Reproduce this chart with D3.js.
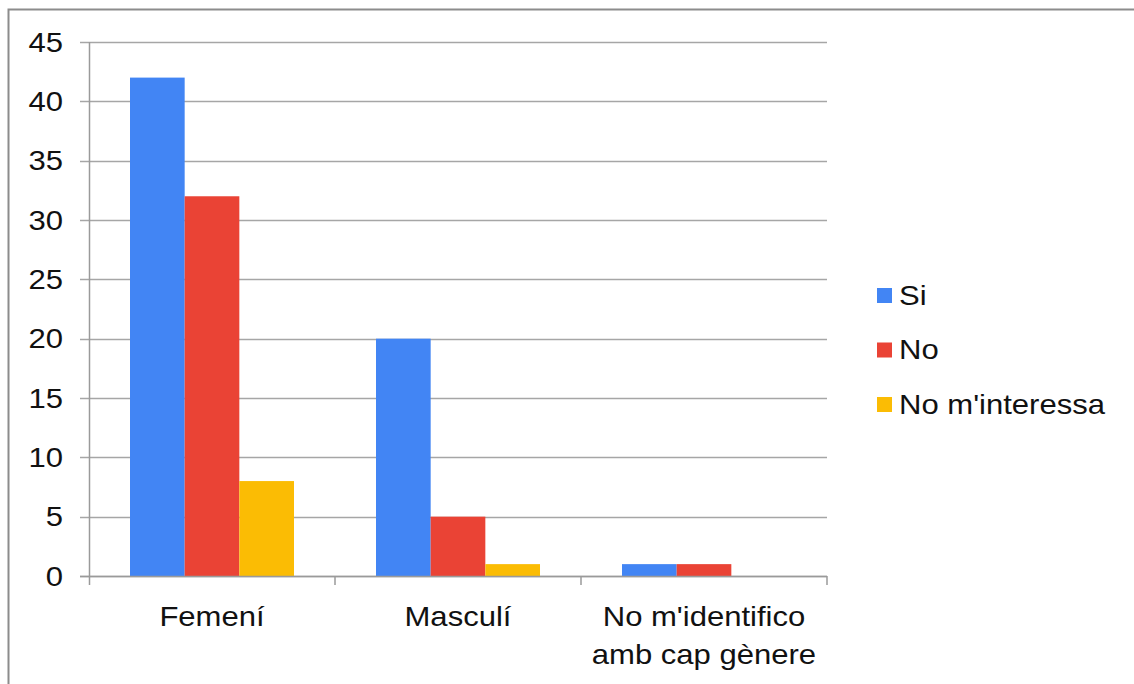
<!DOCTYPE html>
<html>
<head>
<meta charset="utf-8">
<script src="https://cdn.jsdelivr.net/npm/d3@7"></script>
<style>
  body { margin: 0; background: #fff; }
  text { font-family: "Liberation Sans", Arial, sans-serif; fill: #111; }
</style>
</head>
<body>
<div id="chart"></div>
<script>
const categories = ['Femení', 'Masculí', "No m'identifico\namb cap gènere"];
const seriesNames = ['Si', 'No', "No m'interessa"];
const si = [42, 20, 1];
const no = [32, 5, 1];
const noInteressa = [8, 1, 0];
const yTicks = [0, 5, 10, 15, 20, 25, 30, 35, 40, 45];
const colors = ['#4285f4', '#ea4335', '#fbbc04'];

const width = 1134, height = 684;
const margin = { left: 89, right: 307, top: 42, bottom: 108 };
const fontSize = 27;

const svg = d3.select('#chart').append('svg')
  .attr('width', width)
  .attr('height', height);

// outer frame (only left and top visible)
svg.append('path')
  .attr('d', 'M8.5,' + height + 'V9.5H' + width)
  .attr('fill', 'none')
  .attr('stroke', '#8c8c8c')
  .attr('stroke-width', 2);

const x0 = d3.scaleBand()
  .domain(categories)
  .range([margin.left, width - margin.right])
  .paddingInner(0)
  .paddingOuter(0);

const x1 = d3.scaleBand()
  .domain(seriesNames)
  .range([0, x0.bandwidth()])
  .paddingOuter(0.75);

const y = d3.scaleLinear()
  .domain([0, 45])
  .range([height - margin.bottom, margin.top]);

// gridlines
svg.append('g')
  .selectAll('line')
  .data(yTicks)
  .enter()
  .append('line')
    .attr('x1', margin.left - 9)
    .attr('x2', width - margin.right)
    .attr('y1', function(d) { return Math.round(y(d)) + 0.5; })
    .attr('y2', function(d) { return Math.round(y(d)) + 0.5; })
    .attr('stroke', '#a6a6a6')
    .attr('stroke-width', 1.5);

// y labels
svg.append('g')
  .selectAll('text')
  .data(yTicks)
  .enter()
  .append('text')
    .attr('x', 63)
    .attr('y', function(d) { return y(d); })
    .attr('dy', '0.36em')
    .attr('text-anchor', 'end')
    .attr('transform-origin', function(d) { return '63 ' + y(d); })
    .attr('transform', 'scale(1.15,1)')
    .style('font-size', fontSize + 'px')
    .text(function(d) { return d; });

// bars
const rows = categories.map(function(c, i) {
  return { cat: c, values: [si[i], no[i], noInteressa[i]] };
});

const group = svg.append('g')
  .selectAll('g')
  .data(rows)
  .enter()
  .append('g')
    .attr('transform', function(d) { return 'translate(' + x0(d.cat) + ',0)'; });

group.selectAll('rect')
  .data(function(d) {
    return d.values.map(function(v, j) { return { name: seriesNames[j], value: v, color: colors[j] }; });
  })
  .enter()
  .append('rect')
    .attr('x', function(d) { return x1(d.name); })
    .attr('width', x1.bandwidth())
    .attr('y', function(d) { return y(d.value); })
    .attr('height', function(d) { return y(0) - y(d.value); })
    .attr('fill', function(d) { return d.color; });

// axes lines
const axisColor = '#9a9a9a';
svg.append('line')
  .attr('x1', margin.left + 0.5).attr('x2', margin.left + 0.5)
  .attr('y1', margin.top).attr('y2', y(0) + 9)
  .attr('stroke', axisColor).attr('stroke-width', 1.5);
svg.append('line')
  .attr('x1', margin.left - 9).attr('x2', width - margin.right)
  .attr('y1', Math.round(y(0)) + 0.5).attr('y2', Math.round(y(0)) + 0.5)
  .attr('stroke', axisColor).attr('stroke-width', 1.5);

// category ticks
svg.append('g')
  .selectAll('line')
  .data(categories.slice(1).concat(['end']))
  .enter()
  .append('line')
    .attr('x1', function(d) { return d === 'end' ? width - margin.right : x0(d); })
    .attr('x2', function(d) { return d === 'end' ? width - margin.right : x0(d); })
    .attr('y1', y(0))
    .attr('y2', y(0) + 9)
    .attr('stroke', axisColor)
    .attr('stroke-width', 1.5);

// category labels
const catLabel = svg.append('g')
  .selectAll('text')
  .data(categories)
  .enter()
  .append('text')
    .attr('text-anchor', 'middle')
    .attr('transform-origin', function(d) { return (x0(d) + x0.bandwidth() / 2) + ' 0'; })
    .attr('transform', 'scale(1.15,1)')
    .style('font-size', fontSize + 'px');

catLabel.selectAll('tspan')
  .data(function(d) { return d.split('\n').map(function(s) { return { s: s, cat: d }; }); })
  .enter()
  .append('tspan')
    .attr('x', function(d) { return x0(d.cat) + x0.bandwidth() / 2; })
    .attr('y', function(d, i) { return 626 + i * 38; })
    .text(function(d) { return d.s; });

// legend
const legend = svg.append('g')
  .selectAll('g')
  .data(seriesNames)
  .enter()
  .append('g')
    .attr('transform', function(d, i) { return 'translate(877,' + (295 + i * 54.5) + ')'; });

legend.append('rect')
  .attr('x', 0)
  .attr('y', -7)
  .attr('width', 15)
  .attr('height', 15)
  .attr('fill', function(d, i) { return colors[i]; });

legend.append('text')
  .attr('x', 22)
  .attr('y', 0)
  .attr('dy', '0.36em')
  .attr('transform-origin', '22 0')
  .attr('transform', 'scale(1.15,1)')
  .style('font-size', fontSize + 'px')
  .text(function(d) { return d; });
</script>
</body>
</html>
